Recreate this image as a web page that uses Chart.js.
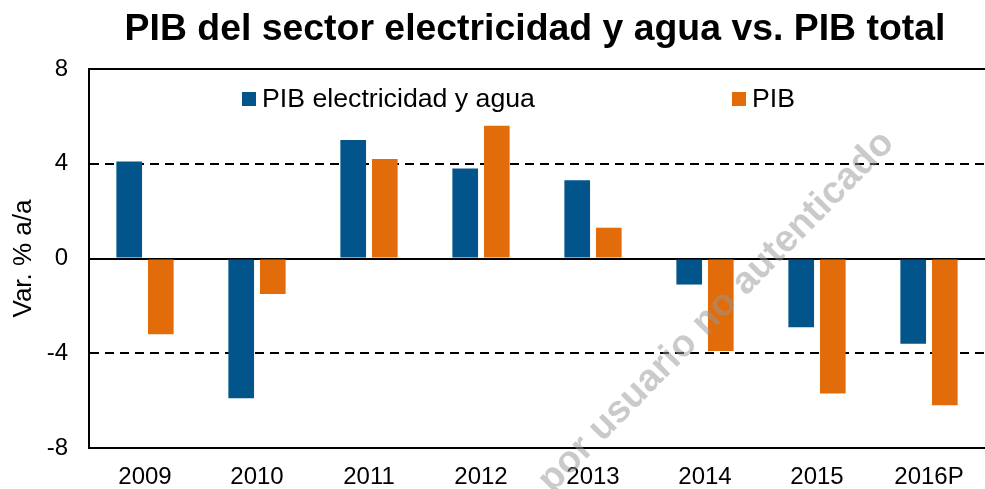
<!DOCTYPE html>
<html>
<head>
<meta charset="utf-8">
<script src="https://cdn.jsdelivr.net/npm/chart.js@4/dist/chart.umd.min.js"></script>
<style>
  html, body { margin: 0; padding: 0; background: #fff; }
  #wrap { width: 985px; height: 489px; position: relative; }
</style>
</head>
<body>
<div id="wrap"><canvas id="chart"></canvas></div>
<script>
// data
const years = ['2009', '2010', '2011', '2012', '2013', '2014', '2015', '2016P'];
const pibElectricidad = [4.1, -5.9, 5.0, 3.8, 3.3, -1.1, -2.9, -3.6];
const pibTotal = [-3.2, -1.5, 4.2, 5.6, 1.3, -3.9, -5.7, -6.2];
const yTicks = [-8, -4, 0, 4, 8];

const titleText = 'PIB del sector electricidad y agua vs. PIB total';
const watermark = 'Documento descargado por usuario no autenticado';
const FONT = '"Liberation Sans", Arial, sans-serif';

// title, legend and watermark drawn by hand
const decorations = {
  id: 'decorations',
  afterDatasetsDraw(chart) {
    const { ctx, chartArea } = chart;
    ctx.save();
    // watermark
    ctx.translate(888, 137);
    ctx.rotate(-45.5 * Math.PI / 180);
    ctx.font = 'bold 38px ' + FONT;
    ctx.fillStyle = 'rgba(150,150,150,0.5)';
    ctx.textAlign = 'right';
    ctx.textBaseline = 'middle';
    ctx.fillText(watermark, 0, 0);
    ctx.restore();

    ctx.save();
    // legend
    ctx.font = '26.7px ' + FONT;
    ctx.textBaseline = 'middle';
    ctx.textAlign = 'left';
    const legendX = [242, 732];
    chart.data.datasets.forEach((ds, i) => {
      ctx.fillStyle = ds.backgroundColor;
      ctx.fillRect(legendX[i], 92, 14, 14);
      ctx.fillStyle = '#000';
      ctx.fillText(ds.label, legendX[i] + 20, 100);
    });
    // title
    ctx.font = 'bold 37.4px ' + FONT;
    ctx.textAlign = 'center';
    ctx.textBaseline = 'alphabetic';
    ctx.fillText(titleText, 535, 40);
    ctx.restore();
  }
};

const ctx = document.getElementById('chart').getContext('2d');
new Chart(ctx, {
  type: 'bar',
  data: {
    labels: years,
    datasets: [
      { label: 'PIB electricidad y agua', data: pibElectricidad, backgroundColor: '#02558B' },
      { label: 'PIB', data: pibTotal, backgroundColor: '#E36C0A' }
    ]
  },
  options: {
    responsive: true,
    maintainAspectRatio: false,
    animation: false,
    layout: { padding: { top: 69, right: -11, left: 0, bottom: 0 } },
    datasets: { bar: { categoryPercentage: 0.564, barPercentage: 0.8125 } },
    scales: {
      x: {
        afterFit(scale) { scale.height = 41; },
        grid: { display: false, drawTicks: false },
        border: { display: true, color: '#000', width: 2 },
        ticks: { color: '#000', font: { family: FONT, size: 24 }, padding: 15, maxRotation: 0 }
      },
      y: {
        min: -8, max: 8,
        afterFit(scale) { scale.width = 89; },
        afterBuildTicks(scale) { scale.ticks = yTicks.map(v => ({ value: v })); },
        grid: { color: '#000', lineWidth: 2, drawTicks: false },
        border: {
          display: true, color: '#000', width: 2,
          dash: (c) => (c.tick && Math.abs(c.tick.value) === 4 ? [9, 6] : [])
        },
        ticks: { color: '#000', font: { family: FONT, size: 24 }, padding: 21 },
        title: {
          display: true, text: 'Var. % a/a', color: '#000',
          font: { family: FONT, size: 26 }, padding: { top: 8, bottom: 0 }
        }
      }
    },
    plugins: {
      legend: { display: false },
      title: { display: false },
      tooltip: { enabled: false }
    }
  },
  plugins: [decorations]
});
</script>
</body>
</html>
